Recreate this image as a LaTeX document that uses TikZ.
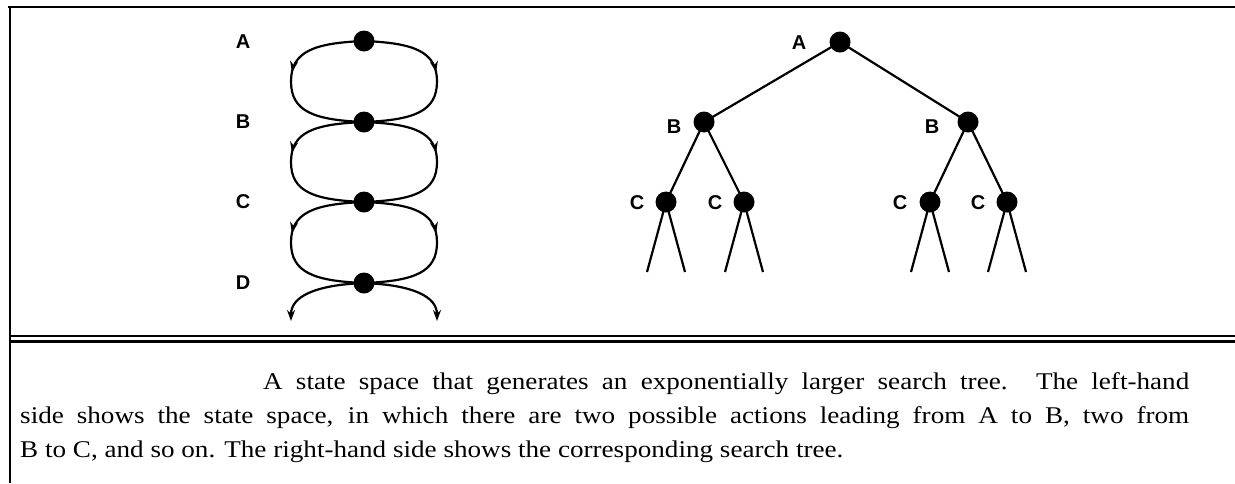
\documentclass[tikz,border=0pt]{standalone}
\usepackage{fontspec}
\setmainfont{Liberation Serif}
\newfontfamily\capfont[FakeStretch=1.13]{Liberation Serif}
\newfontfamily\lblfont{Liberation Sans}
\usetikzlibrary{arrows.meta,decorations.markings,calc}
\begin{document}
\begin{tikzpicture}[x=1pt,y=-1pt,
  dot/.style={circle,fill=black,minimum size=21pt,inner sep=0pt},
  lbl/.style={font=\lblfont\bfseries\fontsize{20}{20}\selectfont,inner sep=0pt},
  link/.style={line width=2.2pt},
  midarrow/.style={line width=2.2pt,postaction={decorate},decoration={markings,mark=at position 0.45 with {\arrow{Stealth[length=11pt,width=8pt]}}}},
  endarrow/.style={line width=2.2pt,-{Stealth[length=11pt,width=8pt]}},
  frame/.style={line width=2.4pt},
  captext/.style={anchor=base west,inner sep=0pt,font=\capfont\fontsize{24}{34}\selectfont}]
\useasboundingbox (0,0) rectangle (1235,483);
% frame
\draw[frame] (8,7) -- (1235,7);
\draw[frame] (10,6) -- (10,483);
\draw[line width=2.4pt] (10,336) -- (1235,336);
\draw[line width=2.4pt] (10,341.5) -- (1235,341.5);
% state space
\node[dot] (sA) at (364,41) {};
\node[dot] (sB) at (364,122) {};
\node[dot] (sC) at (364,202) {};
\node[dot] (sD) at (364,283) {};
\node[lbl] (lA) at (243,42) {A};
\node[lbl] (lB) at (243,122) {B};
\node[lbl] (lC) at (243,202) {C};
\node[lbl] (lD) at (243,283) {D};
\foreach \u/\v in {sA/sB,sB/sC,sC/sD}{
  \draw[midarrow] (\u.center) .. controls +(-50,2) and +(0,-30) .. ($(\u.center)!0.5!(\v.center)+(-73,0)$) .. controls +(0,30) and +(-50,-2) .. (\v.center);
  \draw[midarrow] (\u.center) .. controls +(50,2) and +(0,-30) .. ($(\u.center)!0.5!(\v.center)+(73,0)$) .. controls +(0,30) and +(50,-2) .. (\v.center);
}
\coordinate (dL) at (291,321);
\coordinate (dR) at (437,321);
\draw[endarrow] (sD.center) .. controls +(-50,2) and +(0,-24) .. (dL);
\draw[endarrow] (sD.center) .. controls +(50,2) and +(0,-24) .. (dR);
% tree
\node[dot] (tA) at (840,42) {};
\node[dot] (tB1) at (704,122) {};
\node[dot] (tB2) at (968,122) {};
\node[dot] (tC1) at (666,202) {};
\node[dot] (tC2) at (744,202) {};
\node[dot] (tC3) at (930,202) {};
\node[dot] (tC4) at (1007,202) {};
\node[lbl] (tlA) at (799,43) {A};
\node[lbl] (tlB1) at (674,127) {B};
\node[lbl] (tlB2) at (932,127) {B};
\node[lbl] (tlC1) at (637,203) {C};
\node[lbl] (tlC2) at (715,203) {C};
\node[lbl] (tlC3) at (900,203) {C};
\node[lbl] (tlC4) at (978,203) {C};
\draw[link] (tA.center) -- (tB1.center);
\draw[link] (tA.center) -- (tB2.center);
\draw[link] (tB1.center) -- (tC1.center);
\draw[link] (tB1.center) -- (tC2.center);
\draw[link] (tB2.center) -- (tC3.center);
\draw[link] (tB2.center) -- (tC4.center);
\coordinate (f1) at (647,272); \coordinate (f2) at (685,272);
\coordinate (f3) at (725,272); \coordinate (f4) at (763,272);
\coordinate (f5) at (911,272); \coordinate (f6) at (949,272);
\coordinate (f7) at (988,272); \coordinate (f8) at (1026,272);
\draw[link] (f1) -- (tC1.center) -- (f2);
\draw[link] (f3) -- (tC2.center) -- (f4);
\draw[link] (f5) -- (tC3.center) -- (f6);
\draw[link] (f7) -- (tC4.center) -- (f8);
% caption
\node[captext] (c1) at (263,389) {\hbox to 926pt{A state space that generates an exponentially larger search tree.  The left-hand}};
\node[captext] (c2) at (20,423) {\hbox to 1169pt{side shows the state space, in which there are two possible actions leading from A to B, two from}};
\node[captext] (c3) at (20,457) {B to C, and so on. The right-hand side shows the corresponding search tree.};
\end{tikzpicture}
\end{document}
